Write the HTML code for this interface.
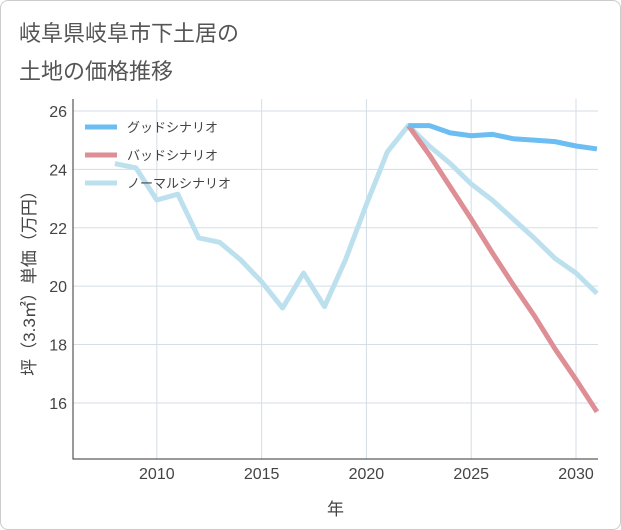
<!DOCTYPE html>
<html><head><meta charset="utf-8"><style>
body{margin:0;background:#fff;font-family:"Liberation Sans","Noto Sans CJK JP",sans-serif;}
#wrap{position:relative;width:619px;height:528px;border:1px solid #ccc;border-radius:8px;overflow:hidden;}
</style></head><body>
<div id="wrap">
<svg id="chart" width="621" height="530">
<text x="18" y="40" font-size="22" fill="#555" font-family="Liberation Sans, Noto Sans CJK JP, sans-serif">岐阜県岐阜市下土居の</text>
<text x="18" y="78" font-size="22" fill="#555" font-family="Liberation Sans, Noto Sans CJK JP, sans-serif">土地の価格推移</text>
<g id="grid"></g><g id="series"></g><g id="axes"></g><g id="legend"></g>
</svg>
</div>
<script>
const years=[2008,2009,2010,2011,2012,2013,2014,2015,2016,2017,2018,2019,2020,2021,2022,2023,2024,2025,2026,2027,2028,2029,2030,2031];
const normalValues=[24.2,24.05,22.95,23.15,21.65,21.5,20.9,20.15,19.25,20.45,19.3,20.9,22.8,24.6,25.5,24.8,24.2,23.5,22.95,22.3,21.65,20.95,20.45,19.75];
const scenarioYears=[2022,2023,2024,2025,2026,2027,2028,2029,2030,2031];
const goodValues=[25.5,25.5,25.25,25.15,25.2,25.05,25.0,24.95,24.8,24.7];
const badValues=[25.5,24.5,23.4,22.3,21.15,20.05,19.0,17.85,16.8,15.7];
const xTicks=[2010,2015,2020,2025,2030];
const yTicks=[16,18,20,22,24,26];
const L=72,R=597,T=98,B=458,x0=2006,x1=2031.05,y0=14.08,y1=26.41;
const sx=v=>L+(v-x0)/(x1-x0)*(R-L);
const sy=v=>B-(v-y0)/(y1-y0)*(B-T);
const NS="http://www.w3.org/2000/svg";
function mk(t,a,p){const e=document.createElementNS(NS,t);for(const k in a)e.setAttribute(k,a[k]);p.appendChild(e);return e;}
const grid=document.getElementById('grid'),axes=document.getElementById('axes'),ser=document.getElementById('series'),leg=document.getElementById('legend');
const font="Liberation Sans, Noto Sans CJK JP, sans-serif";
xTicks.forEach(t=>{const l=mk('line',{x1:sx(t),x2:sx(t),y1:T,y2:B,stroke:'#d5dde5'},grid);


const tx=mk('text',{x:sx(t),y:B+20,'text-anchor':'middle','font-size':16,fill:'#444','font-family':font},axes);tx.textContent=t;

});
yTicks.forEach(t=>{const l=mk('line',{x1:L,x2:R,y1:sy(t),y2:sy(t),stroke:'#d5dde5'},grid);


const tx=mk('text',{x:L-6,y:sy(t)+6,'text-anchor':'end','font-size':16,fill:'#444','font-family':font},axes);tx.textContent=t;

});
const fr=mk('path',{d:`M${L},${T}V${B}H${R}`,stroke:'#333',fill:'none','stroke-width':1},axes);


const xt=mk('text',{x:(L+R)/2,y:514,'text-anchor':'middle','font-size':17,fill:'#444','font-family':font},axes);xt.textContent='年';


const yt=mk('text',{x:0,y:0,'text-anchor':'middle','font-size':17,fill:'#444','font-family':font,transform:`translate(34,${(T+B)/2}) rotate(-90)`},axes);yt.textContent='坪（3.3㎡）単価（万円）';


function line(xs,vs,color,name){const d=xs.map((y,i)=>(i?'L':'M')+sx(y)+','+sy(vs[i])).join('');
const p=mk('path',{d,stroke:color,fill:'none','stroke-width':5,'stroke-linejoin':'round'},ser);

}
line(years,normalValues,'#bde0ef','normal-scenario-line');
line(scenarioYears,badValues,'#de8f95','bad-scenario-line');
line(scenarioYears,goodValues,'#6bbdf2','good-scenario-line');
[['グッドシナリオ','#6bbdf2'],['バッドシナリオ','#de8f95'],['ノーマルシナリオ','#bde0ef']].forEach((e,i)=>{const y=126+i*28;
const g=mk('g',{},leg);


mk('line',{x1:84,x2:116,y1:y,y2:y,stroke:e[1],'stroke-width':5},g);
const t=mk('text',{x:126,y:y+5,'font-size':13,fill:'#444','font-family':font},g);t.textContent=e[0];});
</script>
</body></html>
